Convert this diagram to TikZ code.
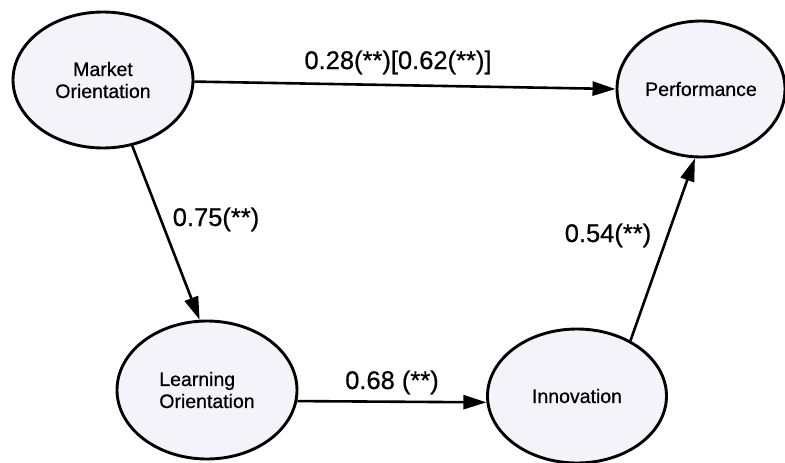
\documentclass[tikz,border=0pt]{standalone}
\usepackage{fontspec}
\setmainfont{Liberation Sans}
\newfontfamily\diagramfont{Liberation Sans}[FakeBold=0.6]
\usetikzlibrary{shapes.geometric,arrows.meta}
\definecolor{constructfill}{HTML}{F4F3FA}
\begin{document}
\begin{tikzpicture}[x=1pt,y=-1pt,
  construct/.style={ellipse,draw=black,line width=2.9pt,fill=constructfill,
    inner sep=0pt,minimum width=180pt,minimum height=136pt,align=center,
    font=\diagramfont\fontsize{19.5}{22}\selectfont},
  path/.style={line width=2.6pt,-{Triangle[length=23pt,width=14pt]}},
  coef/.style={anchor=base,inner sep=0pt,font=\diagramfont\fontsize{25.5}{28}\selectfont}]
\useasboundingbox (0,0) rectangle (785,463);
% latent constructs
\node[construct] (mo) at (103,80) {Market\\Orientation};
\node[construct,minimum width=168pt] (perf) at (701,89) {Performance};
\node[construct,align=left,minimum height=138pt] (lo) at (207,390) {Learning\\Orientation};
\node[construct,minimum width=179pt,minimum height=134pt] (inn) at (577,396) {Innovation};
% structural paths
\draw[path] (mo.-1) -- (perf.180.5);
\draw[path] (mo.-66) -- (lo.96);
\draw[path] (lo.-7.5) -- (inn.184.5);
\draw[path] (inn.46) -- (perf.265);
% path coefficients
\node[coef] (c1) at (398,69) {0.28(**)[0.62(**)]};
\node[coef] (c2) at (216,226) {0.75(**)};
\node[coef] (c3) at (392,389) {0.68 (**)};
\node[coef] (c4) at (608,242) {0.54(**)};
\end{tikzpicture}
\end{document}
